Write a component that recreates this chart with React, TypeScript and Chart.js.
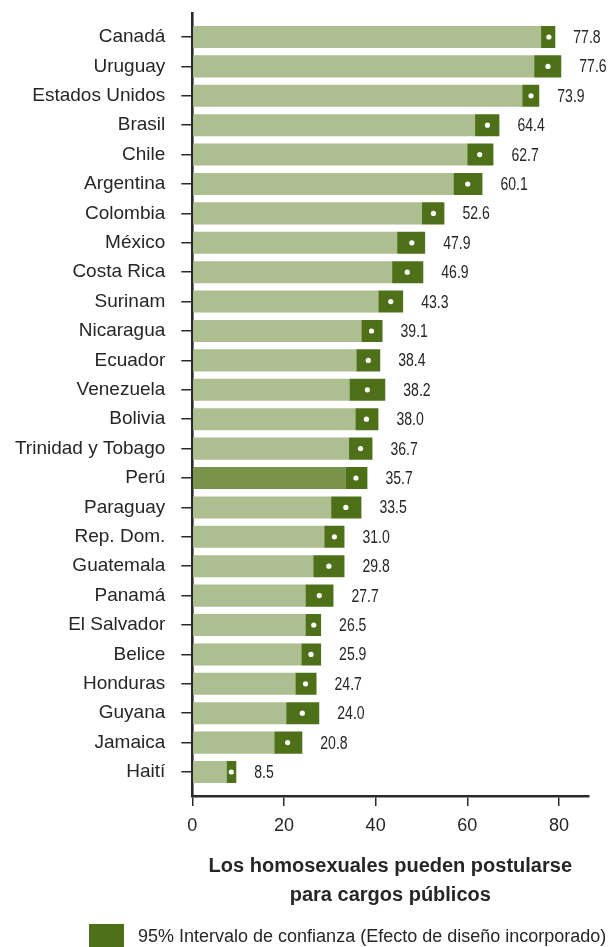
import React, { useEffect, useRef } from "react";
import { Chart, registerables } from "chart.js";

Chart.register(...registerables);

const countries = [
  "Canadá", "Uruguay", "Estados Unidos", "Brasil", "Chile", "Argentina", "Colombia",
  "México", "Costa Rica", "Surinam", "Nicaragua", "Ecuador", "Venezuela", "Bolivia",
  "Trinidad y Tobago", "Perú", "Paraguay", "Rep. Dom.", "Guatemala", "Panamá",
  "El Salvador", "Belice", "Honduras", "Guyana", "Jamaica", "Haití",
];
const means = [77.8, 77.6, 73.9, 64.4, 62.7, 60.1, 52.6, 47.9, 46.9, 43.3, 39.1, 38.4, 38.2, 38.0, 36.7, 35.7, 33.5, 31.0, 29.8, 27.7, 26.5, 25.9, 24.7, 24.0, 20.8, 8.5];
const lower = [76.1, 74.6, 72.0, 61.7, 60.0, 57.0, 50.1, 44.7, 43.6, 40.6, 36.9, 35.8, 34.3, 35.6, 34.2, 33.4, 30.3, 28.8, 26.4, 24.7, 24.7, 23.8, 22.5, 20.5, 17.9, 7.5];
const upper = [79.2, 80.5, 75.7, 67.0, 65.7, 63.3, 55.0, 50.8, 50.4, 46.0, 41.5, 41.0, 42.1, 40.6, 39.3, 38.2, 36.9, 33.2, 33.2, 30.8, 28.1, 28.1, 27.1, 27.7, 24.0, 9.6];
const highlighted = ["Perú"];
const xTicks = [0, 20, 40, 60, 80];
const axisTitle = ["Los homosexuales pueden postularse", "para cargos públicos"];
const legendLabel = "95% Intervalo de confianza (Efecto de diseño incorporado)";

const LIGHT = "#adbe91";
const HILITE = "#7a934a";
const DARK = "#4e7019";
const TEXT = "#262626";
const AXIS = "#2a2a2a";
const FONT = '"Liberation Sans", Arial, Helvetica, sans-serif';

const valueLabels = {
  id: "valueLabels",
  afterDatasetsDraw(chart: any) {
    const { ctx, scales } = chart;
    const sx = 0.78;
    ctx.save();
    ctx.fillStyle = TEXT;
    ctx.font = `18px ${FONT}`;
    ctx.textAlign = "left";
    ctx.textBaseline = "middle";
    means.forEach((m, i) => {
      const x = scales.x.getPixelForValue(upper[i]) + 18;
      const y = scales.y.getPixelForValue(i);
      ctx.save();
      ctx.translate(x, y + 1);
      ctx.scale(sx, 1);
      ctx.fillText(m.toFixed(1), 0, 0);
      ctx.restore();
    });
    ctx.restore();
  },
};

const legendPlugin = {
  id: "customLegend",
  afterDraw(chart: any) {
    const { ctx } = chart;
    ctx.save();
    ctx.fillStyle = DARK;
    ctx.fillRect(89, 924, 35, 24);
    ctx.fillStyle = TEXT;
    ctx.font = `18px ${FONT}`;
    ctx.textAlign = "left";
    ctx.textBaseline = "middle";
    ctx.fillText(legendLabel, 138, 937);
    ctx.restore();
  },
};

export default function App() {
  const ref = useRef<HTMLCanvasElement>(null);
  useEffect(() => {
    if (!ref.current) return;
    const chart = new Chart(ref.current, {
      type: "bar",
      data: {
        datasets: [
          {
            type: "line",
            label: "Media",
            data: means.map((m, i) => ({ x: m, y: i })),
            showLine: false,
            pointRadius: 2.6,
            pointBackgroundColor: "#ffffff",
            pointBorderWidth: 0,
            order: 0,
          } as any,
          {
            label: legendLabel,
            data: lower.map((l, i) => ({ x: [l, upper[i]], y: i })),
            backgroundColor: DARK,
            borderWidth: 0,
            order: 1,
          } as any,
          {
            label: "Base",
            data: lower.map((l, i) => ({ x: l, y: i })),
            backgroundColor: countries.map((c) => (highlighted.includes(c) ? HILITE : LIGHT)),
            borderWidth: 0,
            order: 2,
          } as any,
        ],
      },
      options: {
        indexAxis: "y",
        animation: false,
        responsive: false,
        devicePixelRatio: 1,
        events: [],
        datasets: { bar: { grouped: false, barPercentage: 0.75, categoryPercentage: 1 } } as any,
        layout: { padding: { top: 13, right: 21.7, bottom: 37.5, left: 0 } },
        plugins: { legend: { display: false }, tooltip: { enabled: false } },
        scales: {
          y: {
            type: "linear",
            reverse: true,
            offset: false,
            min: -0.816,
            max: 25.816,
            afterBuildTicks: (s: any) => {
              s.ticks = countries.map((_, i) => ({ value: i }));
            },
            afterFit: (s: any) => {
              s.width = 192.3;
              s.paddingTop = 0;
              s.paddingBottom = 0;
            },
            ticks: {
              autoSkip: false,
              padding: 16,
              color: TEXT,
              font: { family: FONT, size: 19 },
              callback: (v: any) => countries[v],
            },
            grid: { display: true, offset: false, drawOnChartArea: false, drawTicks: true, tickLength: 11, color: AXIS, lineWidth: 1.5 },
            border: { display: true, color: AXIS, width: 2.6 },
          },
          x: {
            type: "linear",
            position: "bottom",
            offset: false,
            min: 0,
            max: 86.4,
            afterBuildTicks: (s: any) => {
              s.ticks = xTicks.map((v) => ({ value: v }));
            },
            afterFit: (s: any) => {
              s.height = 113.5;
            },
            ticks: {
              padding: 9,
              color: TEXT,
              font: { family: FONT, size: 18 },
            },
            grid: { display: true, offset: false, drawOnChartArea: false, drawTicks: true, tickLength: 10, color: AXIS, lineWidth: 1.5 },
            border: { display: true, color: AXIS, width: 2.6 },
            title: {
              display: true,
              text: axisTitle,
              color: TEXT,
              font: { family: FONT, size: 20, weight: "bold", lineHeight: 1.45 },
              padding: { top: 0, bottom: 0 },
            },
          },
        },
      },
      plugins: [valueLabels, legendPlugin],
    } as any);
    return () => chart.destroy();
  }, []);
  return (
    <div style={{ position: "fixed", left: 0, top: 0, width: 610, height: 947, background: "#fff" }}>
      <canvas ref={ref} width={610} height={947} />
    </div>
  );
}
